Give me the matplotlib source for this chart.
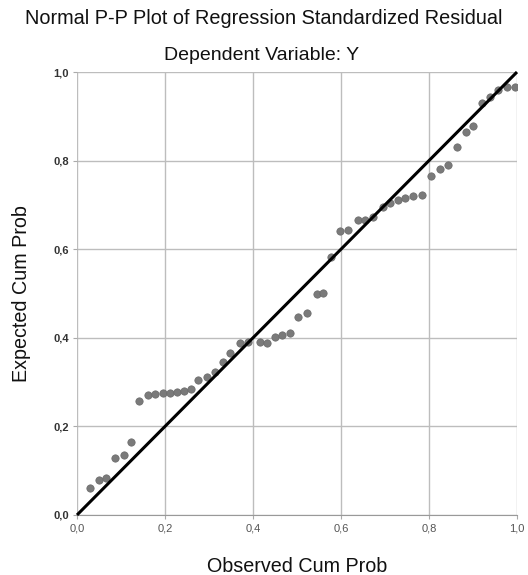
import matplotlib
matplotlib.use("Agg")
import matplotlib.pyplot as plt

plt.rcParams['font.family'] = ['Liberation Sans', 'DejaVu Sans']

title = "Normal P-P Plot of Regression Standardized Residual"
subtitle = "Dependent Variable: Y"
x_label = "Observed Cum Prob"
y_label = "Expected Cum Prob"
tick_values = [0.0, 0.2, 0.4, 0.6, 0.8, 1.0]
tick_labels = ["0,0", "0,2", "0,4", "0,6", "0,8", "1,0"]

observed = [0.029, 0.049, 0.067, 0.087, 0.106, 0.123, 0.142, 0.161, 0.178, 0.195,
            0.212, 0.227, 0.243, 0.259, 0.276, 0.295, 0.314, 0.331, 0.348, 0.370,
            0.389, 0.416, 0.431, 0.450, 0.465, 0.484, 0.503, 0.522, 0.545, 0.560,
            0.578, 0.598, 0.617, 0.639, 0.655, 0.673, 0.696, 0.711, 0.730, 0.745,
            0.764, 0.783, 0.804, 0.825, 0.844, 0.864, 0.884, 0.901, 0.920, 0.939,
            0.957, 0.977, 0.995]
expected = [0.060, 0.079, 0.083, 0.128, 0.135, 0.165, 0.257, 0.271, 0.273, 0.275,
            0.276, 0.278, 0.281, 0.284, 0.305, 0.312, 0.323, 0.345, 0.365, 0.388,
            0.391, 0.391, 0.388, 0.402, 0.406, 0.410, 0.446, 0.457, 0.500, 0.502,
            0.582, 0.640, 0.643, 0.666, 0.667, 0.673, 0.696, 0.704, 0.711, 0.715,
            0.719, 0.722, 0.765, 0.781, 0.790, 0.830, 0.865, 0.877, 0.929, 0.944,
            0.959, 0.967, 0.967]
ref_line = [0.0, 1.0]

fig = plt.figure(figsize=(5.28, 5.75), dpi=100)
ax = fig.add_axes([77/528, 1-515/575, 440/528, 443/575])

ax.set_xlim(0, 1)
ax.set_ylim(0, 1)
ax.set_xticks(tick_values)
ax.set_xticklabels(tick_labels, fontsize=8, color="#555555")
ax.set_yticks(tick_values)
ax.set_yticklabels(tick_labels, fontsize=8, color="#333333", fontweight="bold")
ax.grid(True, color="#bdbdbd", linewidth=1.0)
ax.set_axisbelow(True)
for s in ["top", "right", "left"]:
    ax.spines[s].set_visible(False)
ax.spines["bottom"].set_color("#999999")
ax.tick_params(axis="both", length=3, color="#aaaaaa", pad=3)

ax.scatter(observed, expected, s=28, color="#7a7a7a", edgecolors="#6a6a6a",
           linewidths=0.5, zorder=3)
ax.plot(ref_line, ref_line, color="black", linewidth=2.2, zorder=4,
        solid_capstyle="butt", clip_on=False)

ax.set_xlabel(x_label, fontsize=14.2, labelpad=17, color="#111111")
ax.set_ylabel(y_label, fontsize=14.2, labelpad=16, color="#111111")

fig.text(0.5, 1-18/575, title, ha="center", va="center", fontsize=14.3,
         color="#111111")
fig.text(0.495, 1-55/575, subtitle, ha="center", va="center", fontsize=14.0,
         color="#111111")

fig.savefig("out.png", dpi=100)
